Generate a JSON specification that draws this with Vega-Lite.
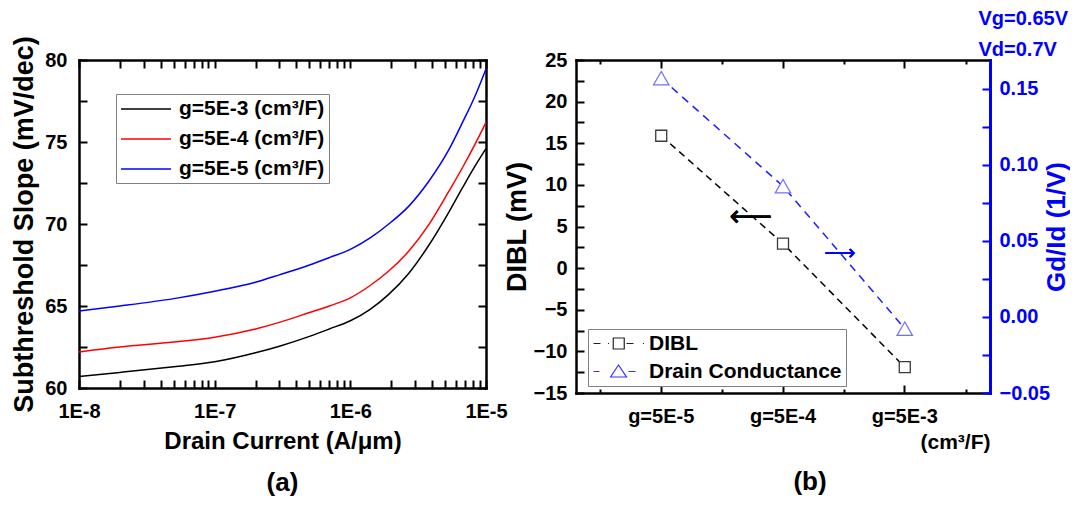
{
  "$schema": "https://vega.github.io/schema/vega-lite/v6.json",
  "background": "white",
  "padding": {"left": 10, "top": 8, "right": 0, "bottom": 2},
  "spacing": 90,
  "bounds": "flush",
  "resolve": {"legend": {"color": "independent", "stroke": "independent", "shape": "independent"}},
  "config": {
    "font": "Liberation Sans",
    "view": {"stroke": null},
    "axis": {
      "labelFont": "Liberation Sans", "labelFontSize": 20, "labelFontWeight": "bold", "labelColor": "black",
      "titleFont": "Liberation Sans", "titleFontWeight": "bold", "titleColor": "black",
      "domainColor": "black", "domainWidth": 2.5, "domainCap": "square",
      "tickColor": "black", "tickWidth": 2, "tickSize": -8, "grid": false,
      "labelOverlap": false, "labelFlush": false, "labelBound": false
    },
    "title": {"font": "Liberation Sans", "fontWeight": "bold", "color": "black"}
  },
  "hconcat": [
    {
      "width": 407, "height": 328,
      "title": {"text": "(a)", "orient": "bottom", "anchor": "middle", "fontSize": 26, "offset": 17},
      "data": {"values": [
        {"series": "g=5E-3 (cm³/F)", "current": 1e-8, "ss": 60.7},
        {"series": "g=5E-3 (cm³/F)", "current": 2e-8, "ss": 60.95},
        {"series": "g=5E-3 (cm³/F)", "current": 5e-8, "ss": 61.3},
        {"series": "g=5E-3 (cm³/F)", "current": 1e-7, "ss": 61.6},
        {"series": "g=5E-3 (cm³/F)", "current": 2e-7, "ss": 62.15},
        {"series": "g=5E-3 (cm³/F)", "current": 3e-7, "ss": 62.55},
        {"series": "g=5E-3 (cm³/F)", "current": 5e-7, "ss": 63.15},
        {"series": "g=5E-3 (cm³/F)", "current": 7e-7, "ss": 63.6},
        {"series": "g=5E-3 (cm³/F)", "current": 1e-6, "ss": 64.1},
        {"series": "g=5E-3 (cm³/F)", "current": 1.4e-6, "ss": 64.8},
        {"series": "g=5E-3 (cm³/F)", "current": 1.9e-6, "ss": 65.68},
        {"series": "g=5E-3 (cm³/F)", "current": 2.7e-6, "ss": 67.0},
        {"series": "g=5E-3 (cm³/F)", "current": 3.8e-6, "ss": 68.72},
        {"series": "g=5E-3 (cm³/F)", "current": 5.3e-6, "ss": 70.7},
        {"series": "g=5E-3 (cm³/F)", "current": 6.7e-6, "ss": 72.2},
        {"series": "g=5E-3 (cm³/F)", "current": 8.4e-6, "ss": 73.6},
        {"series": "g=5E-3 (cm³/F)", "current": 1e-5, "ss": 74.6},
        {"series": "g=5E-4 (cm³/F)", "current": 1e-8, "ss": 62.2},
        {"series": "g=5E-4 (cm³/F)", "current": 2e-8, "ss": 62.5},
        {"series": "g=5E-4 (cm³/F)", "current": 5e-8, "ss": 62.8},
        {"series": "g=5E-4 (cm³/F)", "current": 1e-7, "ss": 63.1},
        {"series": "g=5E-4 (cm³/F)", "current": 2e-7, "ss": 63.6},
        {"series": "g=5E-4 (cm³/F)", "current": 3e-7, "ss": 64.0},
        {"series": "g=5E-4 (cm³/F)", "current": 5e-7, "ss": 64.6},
        {"series": "g=5E-4 (cm³/F)", "current": 7e-7, "ss": 65.0},
        {"series": "g=5E-4 (cm³/F)", "current": 1e-6, "ss": 65.5},
        {"series": "g=5E-4 (cm³/F)", "current": 1.4e-6, "ss": 66.25},
        {"series": "g=5E-4 (cm³/F)", "current": 1.9e-6, "ss": 67.1},
        {"series": "g=5E-4 (cm³/F)", "current": 2.7e-6, "ss": 68.35},
        {"series": "g=5E-4 (cm³/F)", "current": 3.8e-6, "ss": 69.98},
        {"series": "g=5E-4 (cm³/F)", "current": 5.3e-6, "ss": 71.97},
        {"series": "g=5E-4 (cm³/F)", "current": 6.7e-6, "ss": 73.43},
        {"series": "g=5E-4 (cm³/F)", "current": 8.4e-6, "ss": 74.95},
        {"series": "g=5E-4 (cm³/F)", "current": 1e-5, "ss": 76.2},
        {"series": "g=5E-5 (cm³/F)", "current": 1e-8, "ss": 64.7},
        {"series": "g=5E-5 (cm³/F)", "current": 2e-8, "ss": 65.0},
        {"series": "g=5E-5 (cm³/F)", "current": 5e-8, "ss": 65.45},
        {"series": "g=5E-5 (cm³/F)", "current": 1e-7, "ss": 65.9},
        {"series": "g=5E-5 (cm³/F)", "current": 2e-7, "ss": 66.45},
        {"series": "g=5E-5 (cm³/F)", "current": 3e-7, "ss": 66.9},
        {"series": "g=5E-5 (cm³/F)", "current": 5e-7, "ss": 67.5},
        {"series": "g=5E-5 (cm³/F)", "current": 7e-7, "ss": 67.95},
        {"series": "g=5E-5 (cm³/F)", "current": 1e-6, "ss": 68.45},
        {"series": "g=5E-5 (cm³/F)", "current": 1.4e-6, "ss": 69.15},
        {"series": "g=5E-5 (cm³/F)", "current": 1.9e-6, "ss": 69.97},
        {"series": "g=5E-5 (cm³/F)", "current": 2.7e-6, "ss": 71.09},
        {"series": "g=5E-5 (cm³/F)", "current": 3.8e-6, "ss": 72.62},
        {"series": "g=5E-5 (cm³/F)", "current": 5.3e-6, "ss": 74.5},
        {"series": "g=5E-5 (cm³/F)", "current": 6.7e-6, "ss": 76.18},
        {"series": "g=5E-5 (cm³/F)", "current": 8.4e-6, "ss": 77.9},
        {"series": "g=5E-5 (cm³/F)", "current": 1e-5, "ss": 79.45}
      ]},
      "layer": [
        {
          "mark": {"type": "line", "strokeWidth": 1.5, "interpolate": "monotone"},
          "encoding": {
            "x": {"field": "current", "type": "quantitative",
              "scale": {"type": "log", "domain": [1e-8, 1e-5], "nice": false},
              "axis": {"orient": "bottom",
                "values": [1e-8,2e-8,3e-8,4e-8,5e-8,6e-8,7e-8,8e-8,9e-8,1e-7,2e-7,3e-7,4e-7,5e-7,6e-7,7e-7,8e-7,9e-7,1e-6,2e-6,3e-6,4e-6,5e-6,6e-6,7e-6,8e-6,9e-6,1e-5],
                "labelExpr": "abs(log(datum.value)/LN10 - round(log(datum.value)/LN10)) < 0.001 ? '1E' + round(log(datum.value)/LN10) : ''",
                "title": "Drain Current (A/μm)", "titleFontSize": 24, "labelPadding": 21, "titlePadding": 8,
                "encode": {"ticks": {"y2": {"condition": {"test": "abs(log(datum.value)/LN10 - round(log(datum.value)/LN10)) < 0.001", "value": -8}, "value": -4}}}
              }
            },
            "y": {"field": "ss", "type": "quantitative",
              "scale": {"domain": [60, 80], "nice": false, "zero": false},
              "axis": {"orient": "left",
                "values": [60,62.5,65,67.5,70,72.5,75,77.5,80],
                "labelExpr": "datum.value % 5 === 0 ? datum.label : ''",
                "title": "Subthreshold Slope (mV/dec)", "titleFontSize": 27, "labelPadding": 20, "titlePadding": 6,
                "encode": {"ticks": {"x2": {"condition": {"test": "datum.value % 5 === 0", "value": 8}, "value": 4}}}
              }
            },
            "color": {"field": "series", "type": "nominal",
              "scale": {"domain": ["g=5E-3 (cm³/F)", "g=5E-4 (cm³/F)", "g=5E-5 (cm³/F)"], "range": ["#000000", "#ff0000", "#0000ff"]},
              "legend": {"orient": "none", "legendX": 37, "legendY": 34, "title": null,
                "symbolType": "M-1,0H4", "symbolSize": 400, "symbolStrokeWidth": 1.5,
                "labelFont": "Liberation Sans", "labelFontSize": 21, "labelFontWeight": "bold", "labelColor": "black",
                "labelOffset": 37, "labelLimit": 400, "padding": 4, "rowPadding": 9,
                "strokeColor": "#808080", "fillColor": "white"}
            }
          }
        },
        {
          "mark": {"type": "point", "opacity": 0},
          "encoding": {
            "x": {"field": "current", "type": "quantitative",
              "scale": {"type": "log", "domain": [1e-8, 1e-5], "nice": false},
              "axis": {"orient": "top", "labels": false, "title": null,
                "values": [1e-8,2e-8,3e-8,4e-8,5e-8,6e-8,7e-8,8e-8,9e-8,1e-7,2e-7,3e-7,4e-7,5e-7,6e-7,7e-7,8e-7,9e-7,1e-6,2e-6,3e-6,4e-6,5e-6,6e-6,7e-6,8e-6,9e-6,1e-5],
                "encode": {"ticks": {"y2": {"condition": {"test": "abs(log(datum.value)/LN10 - round(log(datum.value)/LN10)) < 0.001", "value": 8}, "value": 4}}}
              }
            },
            "y": {"field": "ss", "type": "quantitative",
              "scale": {"domain": [60, 80], "nice": false, "zero": false},
              "axis": {"orient": "right", "labels": false, "title": null,
                "values": [60,62.5,65,67.5,70,72.5,75,77.5,80],
                "encode": {"ticks": {"x2": {"condition": {"test": "datum.value % 5 === 0", "value": -8}, "value": -4}}}
              }
            }
          }
        }
      ],
      "resolve": {"axis": {"x": "independent", "y": "independent"}}
    },
    {
      "width": 414, "height": 333,
      "title": {"text": "(b)", "orient": "bottom", "anchor": "middle", "fontSize": 26, "offset": 17, "dx": 27},
      "data": {"values": [
        {"g": "g=5E-5", "dibl": 15.9, "gd": 0.157},
        {"g": "g=5E-4", "dibl": 2.95, "gd": 0.086},
        {"g": "g=5E-3", "dibl": -11.9, "gd": -0.0077}
      ]},
      "layer": [
        {
          "mark": {"type": "line", "stroke": "#000000", "strokeDash": [7, 5], "strokeWidth": 1.5},
          "encoding": {
            "x": {"field": "g", "type": "nominal",
              "scale": {"type": "band", "domain": ["g=5E-5", "g=5E-4", "g=5E-3"], "paddingInner": 0, "paddingOuter": 0.2},
              "axis": {"orient": "bottom", "labelAngle": 0, "labelPadding": 21,
                "title": "(cm³/F)", "titleFontSize": 21, "titleAnchor": "end", "titlePadding": 5}
            },
            "y": {"field": "dibl", "type": "quantitative",
              "scale": {"domain": [-15, 25], "nice": false, "zero": false},
              "axis": {"orient": "left",
                "values": [-15,-12.5,-10,-7.5,-5,-2.5,0,2.5,5,7.5,10,12.5,15,17.5,20,22.5,25],
                "labelExpr": "datum.value % 5 === 0 ? datum.label : ''",
                "title": "DIBL (mV)", "titleFontSize": 27, "labelPadding": 17, "titlePadding": 2,
                "encode": {"ticks": {"x2": {"condition": {"test": "datum.value % 5 === 0", "value": 8}, "value": 4}}}
              }
            }
          }
        },
        {
          "mark": {"type": "point", "shape": "square", "filled": true, "fill": "white", "stroke": "#3a3a3a", "size": 121, "strokeWidth": 1.3, "opacity": 1},
          "encoding": {
            "x": {"field": "g", "type": "nominal",
              "scale": {"type": "band", "domain": ["g=5E-5", "g=5E-4", "g=5E-3"], "paddingInner": 0, "paddingOuter": 0.2},
              "axis": {"orient": "bottom", "tickBand": "extent", "labels": false, "domain": false, "title": null, "tickSize": -4}
            },
            "y": {"field": "dibl", "type": "quantitative",
              "scale": {"domain": [-15, 25], "nice": false, "zero": false}, "axis": null}
          }
        },
        {
          "mark": {"type": "line", "stroke": "#1f1fff", "strokeDash": [8, 6], "strokeWidth": 1.5},
          "encoding": {
            "x": {"field": "g", "type": "nominal",
              "scale": {"type": "band", "domain": ["g=5E-5", "g=5E-4", "g=5E-3"], "paddingInner": 0, "paddingOuter": 0.2},
              "axis": {"orient": "top", "labels": false, "title": null}
            },
            "y": {"field": "gd", "type": "quantitative",
              "scale": {"domain": [-0.05, 0.169], "nice": false, "zero": false},
              "axis": {"orient": "right",
                "values": [-0.05,-0.025,0,0.025,0.05,0.075,0.1,0.125,0.15],
                "labelExpr": "abs(datum.value/0.05 - round(datum.value/0.05)) < 0.001 ? format(datum.value, '.2f') : ''",
                "title": "Gd/Id (1/V)", "titleFontSize": 26, "titleAngle": 270, "titleBaseline": "top", "labelPadding": 17, "titlePadding": -6,
                "labelColor": "#0000ff", "titleColor": "#0000ff", "domainColor": "#0000ff", "tickColor": "#0000ff", "domainWidth": 3,
                "encode": {"ticks": {"x2": {"condition": {"test": "abs(datum.value/0.05 - round(datum.value/0.05)) < 0.001", "value": -8}, "value": -4}}}
              }
            }
          }
        },
        {
          "mark": {"type": "point", "shape": "triangle-up", "filled": true, "fill": "white", "stroke": "#7070ff", "size": 240, "strokeWidth": 1.2, "opacity": 1},
          "encoding": {
            "x": {"field": "g", "type": "nominal",
              "scale": {"type": "band", "domain": ["g=5E-5", "g=5E-4", "g=5E-3"], "paddingInner": 0, "paddingOuter": 0.2},
              "axis": {"orient": "top", "tickBand": "extent", "labels": false, "domain": false, "tickSize": -4,
                "title": ["Vg=0.65V", "Vd=0.7V"], "titleColor": "#0000ff", "titleFontSize": 20, "titleLineHeight": 31,
                "titleX": 402, "titleY": -36, "titleAlign": "left", "titleBaseline": "alphabetic", "titleAngle": 0}
            },
            "y": {"field": "gd", "type": "quantitative",
              "scale": {"domain": [-0.05, 0.169], "nice": false, "zero": false}, "axis": null}
          }
        },
        {
          "mark": {"type": "point", "filled": false, "opacity": 0},
          "encoding": {
            "x": {"field": "g", "type": "nominal",
              "scale": {"type": "band", "domain": ["g=5E-5", "g=5E-4", "g=5E-3"], "paddingInner": 0, "paddingOuter": 0.2}, "axis": null},
            "y": {"field": "dibl", "type": "quantitative",
              "scale": {"domain": [-15, 25], "nice": false, "zero": false}, "axis": null},
            "shape": {"datum": "DIBL", "type": "nominal",
              "scale": {"domain": ["DIBL", "Drain Conductance"], "range": ["M-1,0H0.4M1.9,0H2.1M2.95,-1.1H5.15V1.1H2.95ZM5.6,0H7M8.9,0H9.1", "M-1,0H0.2M2.4,1.1L4,-1.3L5.6,1.1ZM6,0H7.4"]},
              "legend": {"orient": "none", "legendX": 12, "legendY": 269, "title": null,
                "symbolSize": 100, "symbolStrokeWidth": 1.2, "symbolOpacity": 1, "symbolFillColor": "transparent", "symbolOffset": -4,
                "labelFont": "Liberation Sans", "labelFontSize": 21, "labelFontWeight": "bold", "labelColor": "black",
                "labelOffset": 40, "labelLimit": 400, "padding": 4, "rowPadding": 6,
                "strokeColor": "#808080", "fillColor": "white"}},
            "stroke": {"datum": "DIBL", "type": "nominal",
              "scale": {"domain": ["DIBL", "Drain Conductance"], "range": ["#222222", "#3030ff"]},
              "legend": {"orient": "none", "legendX": 12, "legendY": 269, "title": null,
                "symbolSize": 100, "symbolStrokeWidth": 1.2, "symbolOpacity": 1, "symbolFillColor": "transparent", "symbolOffset": -4,
                "labelFont": "Liberation Sans", "labelFontSize": 21, "labelFontWeight": "bold", "labelColor": "black",
                "labelOffset": 40, "labelLimit": 400, "padding": 4, "rowPadding": 6,
                "strokeColor": "#808080", "fillColor": "white"}}
          }
        },
        {
          "mark": {"type": "point", "filled": false, "opacity": 0},
          "encoding": {
            "x": {"field": "g", "type": "nominal",
              "scale": {"type": "band", "domain": ["g=5E-5", "g=5E-4", "g=5E-3"], "paddingInner": 0, "paddingOuter": 0.2}, "axis": null},
            "y": {"field": "gd", "type": "quantitative",
              "scale": {"domain": [-0.05, 0.169], "nice": false, "zero": false}, "axis": null},
            "shape": {"datum": "Drain Conductance", "type": "nominal",
              "scale": {"domain": ["DIBL", "Drain Conductance"], "range": ["M-1,0H0.4M1.9,0H2.1M2.95,-1.1H5.15V1.1H2.95ZM5.6,0H7M8.9,0H9.1", "M-1,0H0.2M2.4,1.1L4,-1.3L5.6,1.1ZM6,0H7.4"]}},
            "stroke": {"datum": "Drain Conductance", "type": "nominal",
              "scale": {"domain": ["DIBL", "Drain Conductance"], "range": ["#222222", "#3030ff"]}}
          }
        },
        {
          "mark": {"type": "text", "text": "⟵", "font": "DejaVu Sans", "fontSize": 30, "dx": -32, "color": "#000000"},
          "encoding": {
            "x": {"datum": "g=5E-4", "type": "nominal",
              "scale": {"type": "band", "domain": ["g=5E-5", "g=5E-4", "g=5E-3"], "paddingInner": 0, "paddingOuter": 0.2}, "axis": null},
            "y": {"datum": 6.1, "type": "quantitative", "scale": {"domain": [-15, 25], "nice": false, "zero": false}, "axis": null}
          }
        },
        {
          "mark": {"type": "text", "text": "⟶", "font": "DejaVu Sans", "fontSize": 22, "dx": 57, "color": "#0000ff"},
          "encoding": {
            "x": {"datum": "g=5E-4", "type": "nominal",
              "scale": {"type": "band", "domain": ["g=5E-5", "g=5E-4", "g=5E-3"], "paddingInner": 0, "paddingOuter": 0.2}, "axis": null},
            "y": {"datum": 0.042, "type": "quantitative", "scale": {"domain": [-0.05, 0.169], "nice": false, "zero": false}, "axis": null}
          }
        }
      ],
      "resolve": {"scale": {"y": "independent"}, "axis": {"x": "independent", "y": "independent"}}
    }
  ]
}
